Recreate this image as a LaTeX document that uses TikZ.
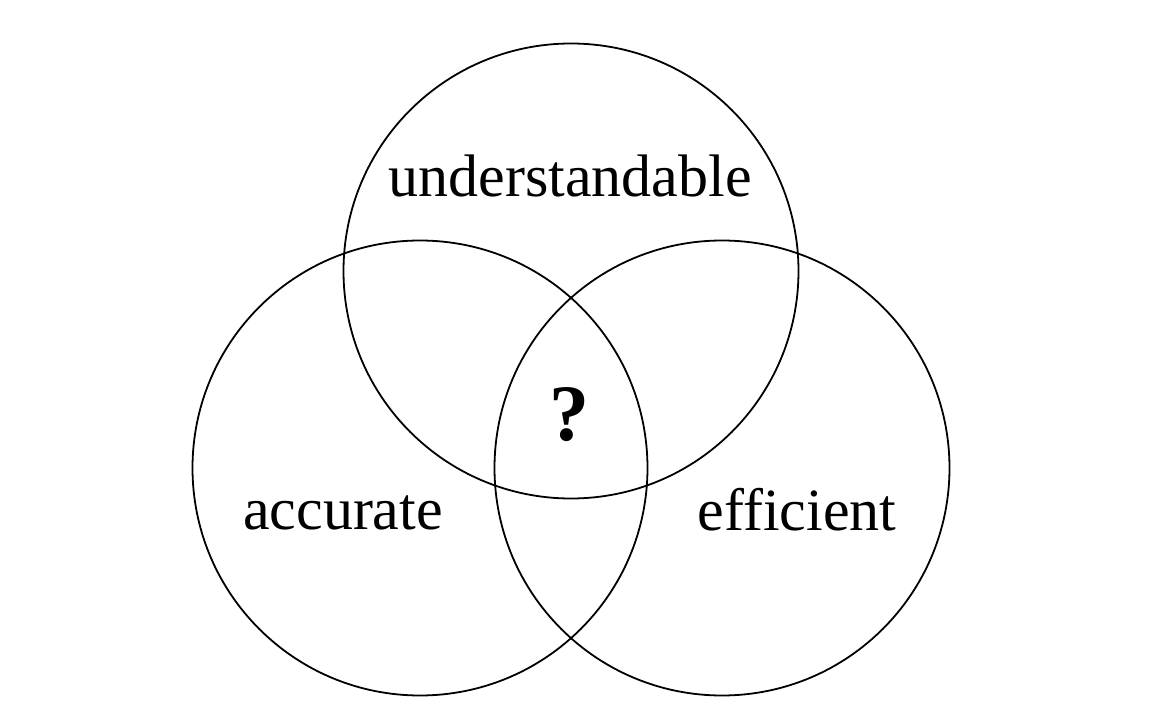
\documentclass[tikz,border=0pt]{standalone}
\usepackage{fontspec}
\setmainfont{Liberation Serif}
\begin{document}
\begin{tikzpicture}[x=0.5pt,y=-0.5pt,
  ring/.style={draw=black,line width=0.9pt,circle,inner sep=0pt,minimum size=227.5pt},
  lbl/.style={anchor=base,inner sep=0pt,font=\fontsize{30}{36}\selectfont},
  qmark/.style={anchor=base,inner sep=0pt,font=\fontsize{40}{48}\selectfont\bfseries}]
\useasboundingbox (0,0) rectangle (1164,728);
\node[ring] (top) at (571,271) {};
\node[ring] (left) at (420,468) {};
\node[ring] (right) at (722,468) {};
\node[lbl] (u) at (570,196) {understandable};
\node[lbl] (a) at (343,529) {accurate};
\node[lbl] (e) at (797,530) {efficient};
\node[qmark] (q) at (569,440) {?};
\end{tikzpicture}
\end{document}
